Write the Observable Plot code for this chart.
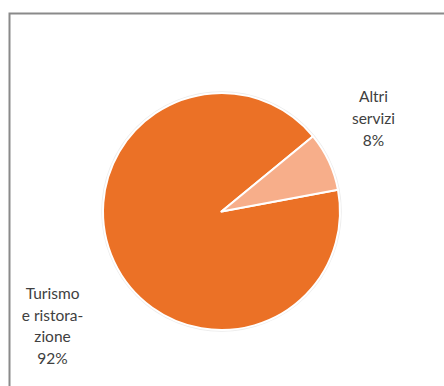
<!DOCTYPE html>
<html>
<head>
<meta charset="utf-8">
<script src="https://cdn.jsdelivr.net/npm/d3@7"></script>
<script src="https://cdn.jsdelivr.net/npm/@observablehq/plot@0.6"></script>
<style>
  html, body { margin: 0; padding: 0; background: #fff; overflow: hidden; width: 444px; height: 386px; }
  #chart { position: absolute; left: 0; top: 0; }
  #chart svg { max-width: none !important; }
</style>
</head>
<body>
<div id="chart"></div>
<script>
// ---- data ----
const categories = ["Turismo e ristorazione", "Altri servizi"];
const shares = [92, 8];
const labelTexts = ["Turismo\ne ristora-\nzione\n92%", "Altri\nservizi\n8%"];
const sliceColors = ["#EB7126", "#F7AE8A"];

// ---- layout ----
const W = 450, H = 392;
const startDeg = 79.4;           // rotation of first slice (clockwise from 12 o'clock)
const labelX = [-1.43, 1.278];   // label anchors in pie-radius units
const labelY = [-0.95, 0.80];

const table = categories.map((c, i) => ({
  category: c, share: shares[i], label: labelTexts[i], lx: labelX[i], ly: labelY[i]
}));

const color = Plot.scale({color: {type: "ordinal", domain: categories, range: sliceColors}});

const pieMark = (index, scales, values, dimensions) => {
  const sx = scales.x, sy = scales.y;
  const cx = sx(0), cy = sy(0), r = sx(1) - sx(0);
  const a0 = startDeg * Math.PI / 180;
  const arcs = d3.pie().sort(null).value(d => d.share).startAngle(a0).endAngle(a0 + 2 * Math.PI)(table);
  const g = d3.create("svg:g").attr("transform", `translate(${cx},${cy})`);
  g.append("circle").attr("r", r + 0.5).attr("fill", "none")
    .attr("stroke", "#000").attr("stroke-opacity", 0.08).attr("stroke-width", 2.5);
  g.selectAll("path").data(arcs).join("path")
    .attr("d", d3.arc().innerRadius(0).outerRadius(r))
    .attr("fill", d => color.apply(d.data.category))
    .attr("stroke", "#fff").attr("stroke-width", 2).attr("stroke-linejoin", "round");
  return g.node();
};

const r0 = 118.5, cxp = 221.5, cyp = 211.5, mL = 9, mT = 13;
const chart = Plot.plot({
  width: W, height: H,
  marginLeft: mL, marginTop: mT, marginRight: 0, marginBottom: 0,
  x: {domain: [(mL - cxp) / r0, (W - cxp) / r0], axis: null},
  y: {domain: [(cyp - H) / r0, (cyp - mT) / r0], axis: null},
  style: {fontFamily: "Lato, sans-serif", background: "#fff", maxWidth: "none"},
  marks: [
    Plot.frame({stroke: "#8a8a8a", strokeWidth: 2}),
    pieMark,
    Plot.text(table, {
      x: "lx", y: "ly", text: "label",
      fill: "#404040", fontSize: 15.5, lineHeight: 1.395,
      textAnchor: "middle", lineAnchor: "middle"
    })
  ]
});
chart.style.maxWidth = "none";
document.getElementById("chart").appendChild(chart);
</script>
</body>
</html>
